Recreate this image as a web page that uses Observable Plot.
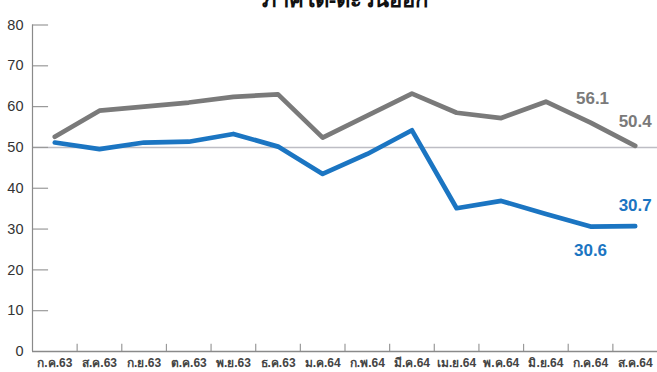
<!DOCTYPE html>
<html><head><meta charset="utf-8">
<script src="https://cdn.jsdelivr.net/npm/d3@7"></script>
<script src="https://cdn.jsdelivr.net/npm/@observablehq/plot@0.6"></script>
<style>
body{margin:0;background:#fff;}
#wrap{position:relative;width:657px;height:372px;overflow:hidden;}
#title{position:absolute;left:0;width:690px;text-align:center;top:-13px;font:bold 22px "Noto Sans","DejaVu Sans",sans-serif;color:#111;line-height:22px;z-index:2;}
#chart{position:absolute;left:0;top:0;}
</style></head>
<body><div id="wrap"><div id="chart"></div><div id="title">ภาคใต้-ตะวันออก</div></div>
<script>
const months = ["ก.ค.63","ส.ค.63","ก.ย.63","ต.ค.63","พ.ย.63","ธ.ค.63","ม.ค.64","ก.พ.64","มี.ค.64","เม.ย.64","พ.ค.64","มิ.ย.64","ก.ค.64","ส.ค.64"];
const grayValues = [52.6, 59.0, 60.0, 61.0, 62.4, 63.0, 52.4, 57.8, 63.2, 58.5, 57.2, 61.2, 56.1, 50.4];
const blueValues = [51.2, 49.6, 51.2, 51.4, 53.3, 50.2, 43.5, 48.4, 54.2, 35.1, 36.9, 33.7, 30.6, 30.7];
const yTicks = [0,10,20,30,40,50,60,70,80];
const refLine = 50;

const gray = "#7a7a7a", blue = "#1b75c2";
const gData = months.map((m,i)=>({i, v: grayValues[i]}));
const bData = months.map((m,i)=>({i, v: blueValues[i]}));
const bounds = months.slice(1).map((m,i)=>i+0.5);
const lab = (arr, i) => [{i, v: arr[i], t: arr[i].toFixed(1)}];

const plot = Plot.plot({
  width: 657, height: 372,
  marginLeft: 32, marginRight: 0, marginTop: 24.5, marginBottom: 21,
  x: {type:"linear", domain:[-0.5, months.length-0.5]},
  y: {domain:[0,80]},
  style: {fontFamily: "'Liberation Sans', 'Noto Sans', sans-serif", background:"#fff"},
  marks: [
    Plot.ruleY([refLine], {stroke:"#bdbdc4", strokeWidth:1.6}),
    Plot.ruleY(yTicks.slice(1), {x1:-0.5, x2:-0.14, stroke:"#9a9a9a", strokeWidth:1.2}),
    Plot.ruleX(bounds, {y1:0, y2:1.75, stroke:"#9a9a9a", strokeWidth:1.2}),
    Plot.ruleX([-0.5], {y1:0, y2:80, stroke:"#8a8a8a", strokeWidth:1.2}),
    Plot.ruleY([0], {stroke:"#8a8a8a", strokeWidth:1.4}),
    Plot.axisY({ticks: yTicks, tickSize:0, tickPadding:9, fontSize:14.5, color:"#333", label:null}),
    Plot.axisX({ticks: d3.range(months.length), tickSize:0, tickPadding:7, fontSize:12, fontWeight:"bold", color:"#444", tickFormat: i => months[i], label:null}),
    Plot.line(gData, {x:"i", y:"v", stroke:gray, strokeWidth:4.7}),
    Plot.line(bData, {x:"i", y:"v", stroke:blue, strokeWidth:4.7}),
    Plot.text(lab(grayValues, 12), {x:"i", y:"v", text:"t", fill:gray, dy:-24, dx:2, fontSize:17, fontWeight:"bold"}),
    Plot.text(lab(grayValues, 13), {x:"i", y:"v", text:"t", fill:gray, dy:-24, fontSize:17, fontWeight:"bold"}),
    Plot.text(lab(blueValues, 13), {x:"i", y:"v", text:"t", fill:blue, dy:-21, fontSize:17, fontWeight:"bold"}),
    Plot.text(lab(blueValues, 12), {x:"i", y:"v", text:"t", fill:blue, dy:24, fontSize:17, fontWeight:"bold"})
  ]
});
document.getElementById("chart").appendChild(plot);
</script></body></html>
